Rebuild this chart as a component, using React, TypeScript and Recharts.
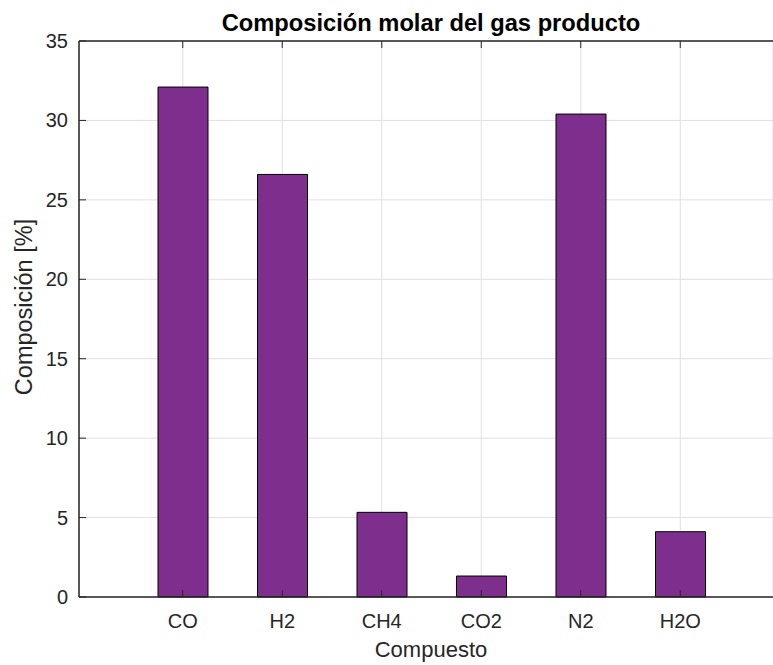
import React from "react";
import { BarChart, Bar, XAxis, YAxis, CartesianGrid, Label } from "recharts";

const compounds = ["CO", "H2", "CH4", "CO2", "N2", "H2O"];
const composition = [32.1, 26.6, 5.33, 1.32, 30.4, 4.11];
const yTicks = [0, 5, 10, 15, 20, 25, 30, 35];

const data = compounds.map((name, i) => ({ name, value: composition[i] }));

const FONT = "'Liberation Sans', Arial, Helvetica, sans-serif";
const AXIS = "#262626";
const TICK_IN = 7;
const CENTER_SHIFT = 5;

const BottomTick = (props: any) => {
  const { x, y, payload } = props;
  return (
    <g>
      <line x1={x} x2={x} y1={y} y2={y - TICK_IN} stroke={AXIS} strokeWidth={1} />
      <text x={x} y={y + 31} textAnchor="middle" fontSize={20} fill={AXIS} fontFamily={FONT}>
        {payload.value}
      </text>
    </g>
  );
};

const TopTick = (props: any) => {
  const { x, y } = props;
  return <line x1={x} x2={x} y1={y} y2={y + TICK_IN} stroke={AXIS} strokeWidth={1} />;
};

const LeftTick = (props: any) => {
  const { x, y, payload } = props;
  return (
    <g>
      <line x1={x} x2={x + TICK_IN} y1={y} y2={y} stroke={AXIS} strokeWidth={1} />
      <text x={x - 11} y={y + 7} textAnchor="end" fontSize={20} fill={AXIS} fontFamily={FONT}>
        {payload.value}
      </text>
    </g>
  );
};

const YLabel = (props: any) => {
  const { viewBox } = props;
  const cx = viewBox.x + 32;
  const cy = viewBox.y + viewBox.height / 2 - 12;
  return (
    <text
      x={cx}
      y={cy}
      transform={`rotate(-90, ${cx}, ${cy})`}
      textAnchor="middle"
      fontSize={23.5}
      fill={AXIS}
      fontFamily={FONT}
    >
      Composición [%]
    </text>
  );
};

const XLabel = (props: any) => {
  const { viewBox } = props;
  const cx = viewBox.x + viewBox.width / 2 + CENTER_SHIFT;
  return (
    <text x={cx} y={viewBox.y + 60} textAnchor="middle" fontSize={22} fill={AXIS} fontFamily={FONT}>
      Compuesto
    </text>
  );
};

const Title = (props: any) => {
  const { viewBox } = props;
  const cx = viewBox.x + viewBox.width / 2 + CENTER_SHIFT;
  return (
    <text x={cx} y={viewBox.y - 9} textAnchor="middle" fontSize={23.7} fontWeight="bold" fill="#000" fontFamily={FONT}>
      Composición molar del gas producto
    </text>
  );
};

export default function App() {
  return (
    <div style={{ position: "absolute", left: 0, top: 0, width: 773, height: 665, overflow: "hidden", background: "#fff" }}>
      <BarChart
        width={773}
        height={665}
        data={data}
        margin={{ top: 40, right: 0, bottom: 0, left: 0 }}
        barCategoryGap={0}
      >
        <CartesianGrid stroke="#e0e0e0" strokeWidth={1} horizontal vertical />
        <XAxis
          dataKey="name"
          height={68}
          padding={{ left: 54, right: 43 }}
          tickLine={false}
          tickSize={0}
          tickMargin={0}
          tick={<BottomTick />}
          axisLine={{ stroke: AXIS, strokeWidth: 1.5 }}
          interval={0}
        >
          <Label content={<XLabel />} />
        </XAxis>
        <XAxis
          xAxisId="top"
          orientation="top"
          dataKey="name"
          height={1}
          padding={{ left: 54, right: 43 }}
          tickLine={false}
          tickSize={0}
          tickMargin={0}
          tick={<TopTick />}
          axisLine={{ stroke: AXIS, strokeWidth: 1.5 }}
          interval={0}
        >
          <Label content={<Title />} />
        </XAxis>
        <YAxis
          width={79}
          domain={[0, 35]}
          ticks={yTicks}
          interval={0}
          tickLine={false}
          tickSize={0}
          tickMargin={0}
          tick={<LeftTick />}
          axisLine={{ stroke: AXIS, strokeWidth: 1.5 }}
        >
          <Label content={<YLabel />} />
        </YAxis>
        <Bar dataKey="value" fill="#7E2F8E" stroke="#000" strokeWidth={1} barSize={50} isAnimationActive={false} />
      </BarChart>
    </div>
  );
}
